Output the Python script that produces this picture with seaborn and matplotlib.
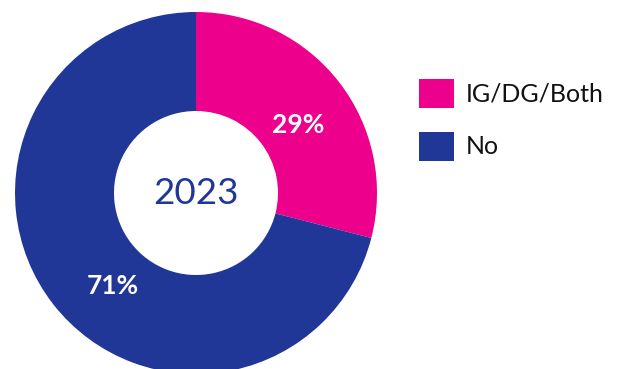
import matplotlib
matplotlib.use("Agg")
import matplotlib.pyplot as plt
import seaborn as sns
from matplotlib.patches import Patch
import numpy as np

# Share of respondents by answer, survey year 2023
categories = ["IG/DG/Both", "No"]
shares = [29, 71]
year_label = "2023"
colors = ["#EC008C", "#213798"]

sns.set_theme(style="white")
plt.rcParams["font.family"] = ["Lato", "DejaVu Sans"]

W, H = 618, 369
fig = plt.figure(figsize=(W / 100, H / 100), dpi=100)

# Donut centre at (196, 193) px with outer radius 181 px
cx, cy, R = 196, 193, 181
ax = fig.add_axes([(cx - R) / W, (H - cy - R) / H, 2 * R / W, 2 * R / H])
wedges, _ = ax.pie(
    shares,
    colors=colors,
    startangle=90,
    counterclock=False,
    radius=1.0,
    wedgeprops=dict(width=1 - 82 / 181, linewidth=0),
)
ax.set_xlim(-1, 1)
ax.set_ylim(-1, 1)
ax.set_aspect("equal")
ax.axis("off")

# Percentage labels inside each ring segment
label_offsets = [-4.0, 10.5]
label_radii = [0.68, 0.69]
for w, val, off, r in zip(wedges, shares, label_offsets, label_radii):
    mid = np.deg2rad((w.theta1 + w.theta2) / 2 + off)
    ax.text(r * np.cos(mid), r * np.sin(mid), f"{val}%", ha="center", va="center",
            color="white", fontsize=19, fontweight="bold")

ax.text(0, 0, year_label, ha="center", va="center", color="#213798",
        fontsize=26.5, fontweight="normal")

handles = [Patch(facecolor=c, edgecolor="none") for c in colors]
leg = fig.legend(
    handles, categories,
    loc="upper left",
    bbox_to_anchor=(419 / W, 1 - 79 / H),
    frameon=False,
    fontsize=18,
    handlelength=1.4,
    handleheight=1.4,
    handletextpad=0.45,
    labelspacing=0.95,
    borderpad=0,
    borderaxespad=0,
)
for t in leg.get_texts():
    t.set_color("#111111")

fig.savefig("out.png", dpi=100)
